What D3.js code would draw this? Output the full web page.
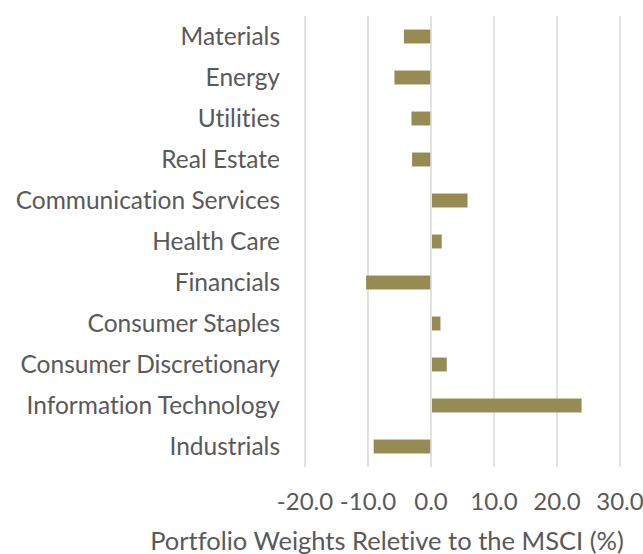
<!DOCTYPE html>
<html>
  <head>
    <meta charset="UTF-8" />
    <style>
      body {
        margin: 0;
        background: #fff;
      }
      svg text {
        font-family: Lato, "Open Sans", sans-serif;
        font-variant-ligatures: none;
        fill: #595959;
      }
    </style>
  </head>
  <body>
    <svg></svg>
    <script src="https://d3js.org/d3.v7.min.js"></script>
    <script>
      let width = 643,
        height = 554;

      // sectors, top to bottom
      let sectors = [
        "Materials",
        "Energy",
        "Utilities",
        "Real Estate",
        "Communication Services",
        "Health Care",
        "Financials",
        "Consumer Staples",
        "Consumer Discretionary",
        "Information Technology",
        "Industrials",
      ];
      let weights = [-4.3, -5.8, -3.1, -3.0, 5.8, 1.7, -10.3, 1.5, 2.5, 23.9, -9.1];
      let ticks = [-20, -10, 0, 10, 20, 30];
      let axisTitle = "Portfolio Weights Reletive to the MSCI (%)";

      let data = sectors.map((s, i) => ({ sector: s, value: weights[i] }));

      // plain hyphen for negatives, like the original
      let fmt = d3
        .formatLocale({
          decimal: ".",
          thousands: ",",
          grouping: [3],
          currency: ["", ""],
          minus: "-",
        })
        .format(".1f");

      let svg = d3
        .select("svg")
        .attr("width", width)
        .attr("height", height);

      let x = d3.scaleLinear().domain([-20, 30]).range([305, 620]);

      let y = d3
        .scaleBand()
        .domain(sectors)
        .range([16, 467])
        .paddingInner(0.66)
        .paddingOuter(0.33);

      // vertical gridlines
      svg
        .append("g")
        .attr("class", "grid")
        .selectAll("line")
        .data(ticks)
        .enter()
        .append("line")
        .attr("x1", (d) => x(d))
        .attr("x2", (d) => x(d))
        .attr("y1", 16)
        .attr("y2", 467)
        .attr("stroke", "#d9d9d9")
        .attr("stroke-width", 1.5);

      // bars
      svg
        .append("g")
        .selectAll("rect")
        .data(data)
        .enter()
        .append("rect")
        .attr("x", (d) => (d.value < 0 ? x(d.value) : x(0) + 1))
        .attr("width", (d) => Math.abs(x(d.value) - x(0)) - (d.value < 0 ? 0.7 : 1))
        .attr("y", (d) => y(d.sector))
        .attr("height", y.bandwidth())
        .attr("fill", "#958b53");

      // category labels
      svg
        .append("g")
        .selectAll("text")
        .data(sectors)
        .enter()
        .append("text")
        .attr("x", 280)
        .attr("y", (d) => y(d) + y.bandwidth() / 2)
        .attr("dy", "0.35em")
        .attr("text-anchor", "end")
        .style("font-size", "24.5px")
        .text((d) => d);

      // tick labels
      svg
        .append("g")
        .selectAll("text")
        .data(ticks)
        .enter()
        .append("text")
        .attr("x", (d) => x(d))
        .attr("y", 502)
        .attr("dy", "0.35em")
        .attr("text-anchor", "middle")
        .style("font-size", "24px")
        .text((d) => fmt(d));

      // axis title
      svg
        .append("text")
        .attr("x", 387)
        .attr("y", 541)
        .attr("dy", "0.35em")
        .attr("text-anchor", "middle")
        .style("font-size", "25.5px")
        .text(axisTitle);
    </script>
  </body>
</html>
